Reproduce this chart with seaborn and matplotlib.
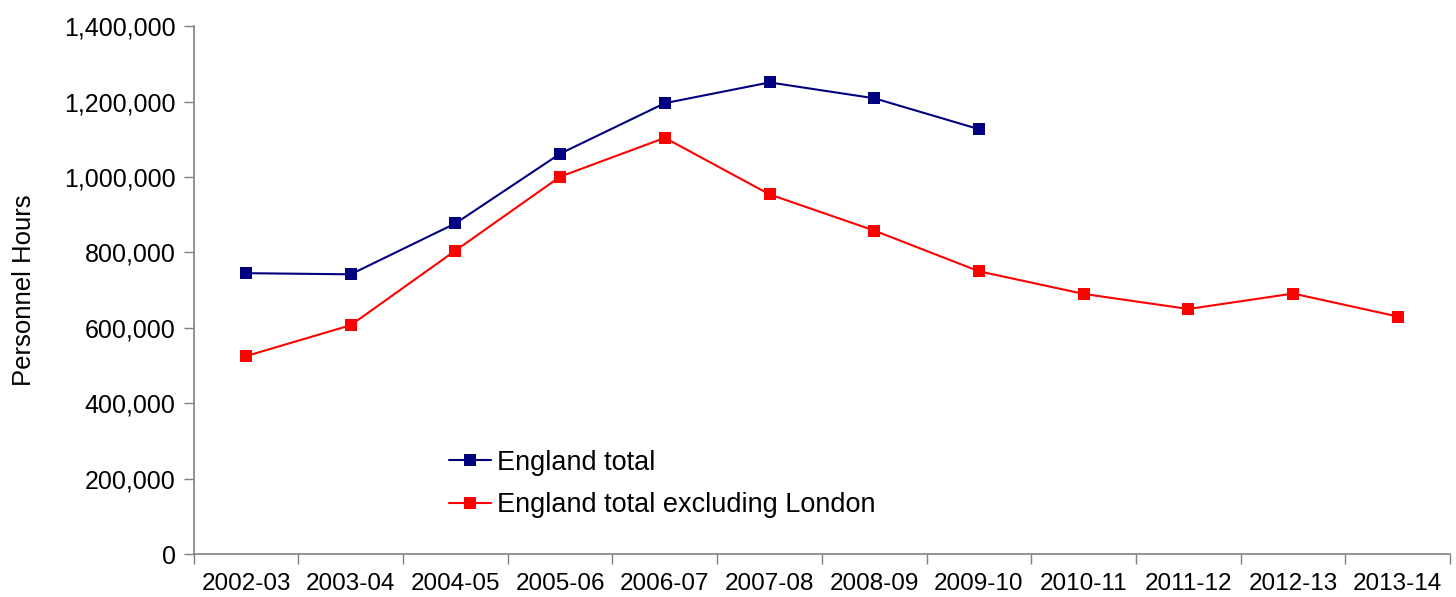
import numpy as np
import pandas as pd
import matplotlib.pyplot as plt
import seaborn as sns
from matplotlib.ticker import FuncFormatter, FixedLocator

sns.set_style("white")
plt.rcParams['font.family'] = ['Liberation Sans', 'DejaVu Sans']
plt.rcParams['text.color'] = 'black'
plt.rcParams['axes.labelcolor'] = 'black'
plt.rcParams['xtick.color'] = 'black'
plt.rcParams['ytick.color'] = 'black'

years = ["2002-03", "2003-04", "2004-05", "2005-06", "2006-07", "2007-08",
         "2008-09", "2009-10", "2010-11", "2011-12", "2012-13", "2013-14"]
england_total = [745000, 742000, 877000, 1062000, 1196000, 1251000, 1209000, 1127000]
excl_london = [525000, 607000, 805000, 1001000, 1104000, 954000, 858000, 750000,
               690000, 650000, 691000, 630000]

df = pd.concat([
    pd.DataFrame({"pos": np.arange(len(england_total)), "hours": england_total,
                  "series": "England total"}),
    pd.DataFrame({"pos": np.arange(len(excl_london)), "hours": excl_london,
                  "series": "England total excluding London"}),
])

fig = plt.figure(figsize=(14.56, 5.97), dpi=100)
ax = fig.add_axes([0.133, 0.072, 0.863, 0.884])

sns.lineplot(data=df, x="pos", y="hours", hue="series", ax=ax,
             palette={"England total": "#000080", "England total excluding London": "#ff0000"},
             marker="s", markersize=8, markeredgewidth=0, linewidth=1.5)

ax.set_xlim(-0.5, len(years) - 0.5)
ax.set_ylim(0, 1400000)
ax.set_yticks(np.arange(0, 1400001, 200000))
ax.yaxis.set_major_formatter(FuncFormatter(lambda v, p: f"{int(v):,}"))
ax.set_xticks(np.arange(len(years)))
ax.set_xticklabels(years)
ax.xaxis.set_minor_locator(FixedLocator(np.arange(-0.5, len(years), 1.0)))
ax.tick_params(axis="x", which="major", length=0, pad=14, labelsize=17.5)
ax.tick_params(axis="x", which="minor", length=7, color="#808080", width=1, direction="out", bottom=True)
ax.tick_params(axis="y", length=7, color="#808080", labelcolor="black", width=1,
               direction="out", left=True, labelsize=18, pad=6)

ax.set_xlabel("")
ax.set_ylabel("Personnel Hours", fontsize=18.5, labelpad=20)
for s in ["top", "right"]:
    ax.spines[s].set_visible(False)
for s in ["left", "bottom"]:
    ax.spines[s].set_color("#808080")
    ax.spines[s].set_linewidth(1.2)

ax.legend(loc="lower left", bbox_to_anchor=(0.184, 0.022), frameon=False, fontsize=19.5,
          handlelength=1.55, handletextpad=0.2, labelspacing=0.6)

fig.savefig("out.png", dpi=100)
